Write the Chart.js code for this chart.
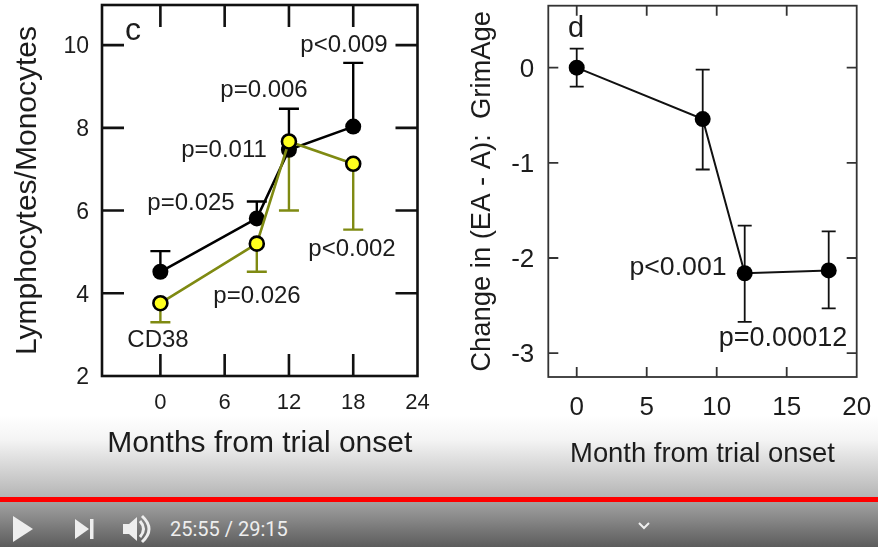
<!DOCTYPE html>
<html>
<head>
<meta charset="utf-8">
<script src="https://cdn.jsdelivr.net/npm/chart.js@4"></script>
<style>
  html, body { margin: 0; padding: 0; }
  body { width: 878px; height: 547px; overflow: hidden; position: relative; background: #fff; }
  #fade { position: absolute; left: 0; top: 415px; width: 878px; height: 83px; background: linear-gradient(#fff, #f4f4f4 30%, #b4b4b4); }
  #bar { position: absolute; left: 0; top: 502px; width: 878px; height: 45px; background: linear-gradient(#a2a2a2, #5c5c5c); }
  #red { position: absolute; left: 0; top: 497px; width: 878px; height: 5px; background: #f00; }
  #time { position: absolute; left: 170px; top: 517px; color: #eee; font: 20px Roboto, sans-serif; white-space: nowrap; }
  #icons { position: absolute; left: 0; top: 502px; }
  canvas { position: absolute; top: 0; }
  #left { left: 0; }
  #right { left: 440px; }
</style>
</head>
<body>
<div id="fade"></div>
<div id="bar"></div>
<div id="red"></div>
<svg id="icons" width="878" height="45" fill="#eee">
  <path d="M13 14 L33 27 L13 40 Z"/>
  <path d="M75 17 L89 27 L75 37 Z"/><rect x="90" y="17" width="3.5" height="20"/>
  <path d="M123 22 H129 L137 15 V39 L129 32 H123 Z"/>
  <path d="M140 19 Q147 27 140 35 M142 14 Q156 27 142 40" fill="none" stroke="#eee" stroke-width="3"/>
  <path d="M639 21 L644 26 L649 21" fill="none" stroke="#eee" stroke-width="2"/>
</svg>
<div id="time">25:55 / 29:15</div>
<canvas id="left" width="440" height="547"></canvas>
<canvas id="right" width="438" height="547"></canvas>
<script>
// PANEL C DATA
let cMonths = [0, 9, 12, 18];
let cTicksX = [0, 6, 12, 18, 24];
let cTicksY = [2, 4, 6, 8, 10];
let ratioAll = [4.52, 5.81, 7.47, 8.03];
let ratioAllUpper = [5.02, 6.22, 8.46, 9.57];
let ratioCD38 = [3.76, 5.2, 7.67, 7.13];
let ratioCD38Lower = [3.3, 4.52, 6.0, 5.54];

// PANEL D DATA
let dMonths = [0, 9, 12, 18];
let dTicksX = [0, 5, 10, 15, 20];
let dTicksY = [0, -1, -2, -3];
let grimAge = [0, -0.54, -2.16, -2.13];
let grimAgeUpper = [0.2, -0.02, -1.66, -1.72];
let grimAgeLower = [-0.2, -1.07, -2.67, -2.53];

const FONT = '"Liberation Sans", Arial, sans-serif';
const INK = "#1c1c1c";
const OLIVE = "#7f8a12";

function points(xs, ys) {
    return xs.map((x, i) => ({ x: x, y: ys[i] }));
}

// box round the plot and the inward ticks on all four sides
function framePlugin(lineWidth, tickLen, color) {
    return {
        id: "frame",
        beforeDatasetsDraw(chart) {
            const { ctx, chartArea: a, scales } = chart;
            ctx.save();
            ctx.strokeStyle = color;
            ctx.lineWidth = lineWidth;
            ctx.strokeRect(a.left, a.top, a.right - a.left, a.bottom - a.top);
            ctx.beginPath();
            scales.x.ticks.forEach(t => {
                const px = scales.x.getPixelForValue(t.value);
                if (px > a.right - 2) return;
                ctx.moveTo(px, a.top); ctx.lineTo(px, a.top + tickLen);
                ctx.moveTo(px, a.bottom); ctx.lineTo(px, a.bottom - tickLen);
            });
            scales.y.ticks.forEach(t => {
                const py = scales.y.getPixelForValue(t.value);
                if (py > a.bottom - 2) return;
                ctx.moveTo(a.left, py); ctx.lineTo(a.left + tickLen, py);
                ctx.moveTo(a.right, py); ctx.lineTo(a.right - tickLen, py);
            });
            ctx.stroke();
            ctx.restore();
        }
    };
}

// error bars, read through the chart scales
function errorPlugin(bars) {
    return {
        id: "errors",
        beforeDatasetsDraw(chart) {
            const { ctx, scales } = chart;
            bars.forEach(b => {
                ctx.save();
                ctx.strokeStyle = b.color;
                ctx.lineWidth = b.width;
                b.xs.forEach((m, i) => {
                    const px = scales.x.getPixelForValue(m);
                    const from = scales.y.getPixelForValue(b.from[i]);
                    const to = scales.y.getPixelForValue(b.to[i]);
                    ctx.beginPath();
                    ctx.moveTo(px, from); ctx.lineTo(px, to);
                    ctx.moveTo(px - b.cap, to); ctx.lineTo(px + b.cap, to);
                    ctx.stroke();
                });
                ctx.restore();
            });
        }
    };
}

function notesPlugin(notes) {
    return {
        id: "notes",
        afterDatasetsDraw(chart) {
            const ctx = chart.ctx;
            ctx.save();
            ctx.fillStyle = INK;
            ctx.textAlign = "center";
            ctx.textBaseline = "middle";
            notes.forEach(n => {
                ctx.font = n.size + "px " + FONT;
                ctx.fillText(n.text, n.x, n.y);
            });
            ctx.restore();
        }
    };
}

function axis(cfg) {
    return {
        type: "linear",
        min: cfg.min,
        max: cfg.max,
        grid: { display: false, drawTicks: false },
        border: { display: false },
        afterBuildTicks: s => { s.ticks = cfg.ticks.map(v => ({ value: v })); },
        afterFit: s => {
            cfg.fit(s);
            // plot box is set by the layout padding only
            s.getPadding = () => ({ left: 0, top: 0, right: 0, bottom: 0 });
        },
        ticks: {
            color: INK,
            padding: cfg.tickPad,
            labelOffset: cfg.labelOffset || 0,
            font: { family: FONT, size: cfg.tickSize },
            maxRotation: 0,
            autoSkip: false,
            callback: v => String(v)
        },
        title: {
            display: true,
            text: cfg.title,
            color: INK,
            padding: cfg.titlePad,
            font: { family: FONT, size: cfg.titleSize, lineHeight: 1.2 }
        }
    };
}

new Chart("left", {
    type: "scatter",
    data: {
        datasets: [
            {
                data: points(cMonths, ratioCD38),
                showLine: true,
                borderColor: OLIVE,
                borderWidth: 2.6,
                pointRadius: 7,
                pointBorderWidth: 2.6,
                pointBackgroundColor: "#ffff1e",
                pointBorderColor: "#000",
            },
            {
                data: points(cMonths, ratioAll),
                showLine: true,
                borderColor: "#000",
                borderWidth: 2.6,
                pointRadius: 8,
                pointBorderWidth: 0,
                pointBackgroundColor: "#000",
            },
        ],
    },
    options: {
        responsive: false,
        animation: false,
        layout: { autoPadding: false, padding: { top: 5, right: 22.5, bottom: 0, left: 0 } },
        plugins: { legend: { display: false }, tooltip: { enabled: false } },
        scales: {
            x: axis({
                min: -5.45, max: 24, ticks: cTicksX, tickPad: 14, tickSize: 22,
                title: "Months from trial onset", titleSize: 30, titlePad: { top: 0, bottom: 85 },
                fit: s => { s.height = 171; }
            }),
            y: axis({
                min: 2, max: 10.97, ticks: cTicksY, tickPad: 13, tickSize: 23, labelOffset: 2,
                title: "Lymphocytes/Monocytes", titleSize: 30, titlePad: { top: 10, bottom: 0 },
                fit: s => { s.width = 102; }
            }),
        },
    },
    plugins: [
        framePlugin(2.6, 22, "#111"),
        errorPlugin([
            { xs: cMonths, from: ratioAll, to: ratioAllUpper, color: "#000", width: 2.4, cap: 10 },
            { xs: cMonths, from: ratioCD38, to: ratioCD38Lower, color: OLIVE, width: 2.4, cap: 10 },
        ]),
        notesPlugin([
            { text: "c", x: 133, y: 31, size: 32 },
            { text: "p<0.009", x: 344, y: 45, size: 24 },
            { text: "p=0.006", x: 264, y: 90, size: 24 },
            { text: "p=0.011", x: 224, y: 150, size: 24 },
            { text: "p=0.025", x: 191, y: 203, size: 24 },
            { text: "p<0.002", x: 352, y: 249, size: 24 },
            { text: "p=0.026", x: 257, y: 296, size: 24 },
            { text: "CD38", x: 158, y: 340, size: 24 },
        ]),
    ],
});

new Chart("right", {
    type: "scatter",
    data: {
        datasets: [
            {
                data: points(dMonths, grimAge),
                showLine: true,
                borderColor: "#111",
                borderWidth: 2,
                pointRadius: 8,
                pointBorderWidth: 0,
                pointBackgroundColor: "#000",
            },
        ],
    },
    options: {
        responsive: false,
        animation: false,
        layout: { autoPadding: false, padding: { top: 5.7, right: 21.3, bottom: 0, left: 0 } },
        plugins: { legend: { display: false }, tooltip: { enabled: false } },
        scales: {
            x: axis({
                min: -2.03, max: 20, ticks: dTicksX, tickPad: 15, tickSize: 26,
                title: "Month from trial onset", titleSize: 27.4, titlePad: { top: 0, bottom: 76.6 },
                fit: s => { s.height = 170; }
            }),
            y: axis({
                min: -3.25, max: 0.651, ticks: dTicksY, tickPad: 14, tickSize: 26, labelOffset: 2,
                title: "Change in (EA - A):  GrimAge", titleSize: 27.4, titlePad: { top: 25.6, bottom: 0 },
                fit: s => { s.width = 108.3; }
            }),
        },
    },
    plugins: [
        framePlugin(1.8, 10, "#333"),
        errorPlugin([
            { xs: dMonths, from: grimAge, to: grimAgeUpper, color: "#111", width: 1.8, cap: 7 },
            { xs: dMonths, from: grimAge, to: grimAgeLower, color: "#111", width: 1.8, cap: 7 },
        ]),
        notesPlugin([
            { text: "d", x: 136, y: 29, size: 29 },
            { text: "p<0.001", x: 238, y: 268, size: 26.7 },
            { text: "p=0.00012", x: 343, y: 339, size: 27 },
        ]),
    ],
});
</script>
</body>
</html>
